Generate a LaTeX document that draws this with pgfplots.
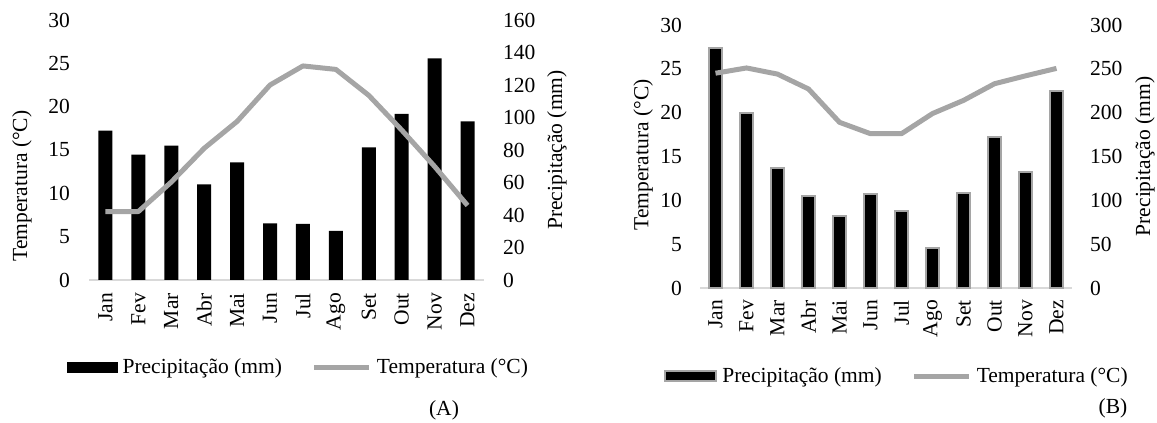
\documentclass[border=0pt]{standalone}
\usepackage{fontspec}
\setmainfont{Liberation Serif}
\usepackage{pgfplots}
\pgfplotsset{compat=1.18}

\definecolor{linegray}{HTML}{A5A5A5}
\definecolor{axisgray}{HTML}{D9D9D9}
\newcommand{\fs}{\fontsize{21.5}{25}\selectfont}

\pgfplotsset{
  clima/.style={
    scale only axis, anchor=south west, clip=false,
    xmin=-0.5, xmax=11.5, enlargelimits=false,
    tick style={draw=none}, major tick length=0pt,
    /pgf/number format/assume math mode=true,
    tick label style={font=\fs, inner sep=0pt},
    separate axis lines,
    y axis line style={draw=none},
  },
  meses/.style={
    xtick={0,...,11},
    xticklabels={Jan,Fev,Mar,Abr,Mai,Jun,Jul,Ago,Set,Out,Nov,Dez},
    xticklabel style={rotate=90, anchor=east},
  },
}

\begin{document}
\begin{tikzpicture}
\path[use as bounding box] (0,0) rectangle (1157pt,423pt);

% ---------- (A) ----------
\begin{axis}[clima, meses, at={(89pt,143pt)}, width=395pt, height=260pt,
    ymin=0, ymax=160, ytick={0,20,...,160},
    axis y line*=right, axis x line*=bottom,
    x axis line style={draw=axisgray, line width=2pt},
    xticklabel shift=13pt, yticklabel shift=19pt,
    ylabel={Precipitação (mm)},
    every axis y label/.style={at={(rel axis cs:1.1848,0.5)}, rotate=90, anchor=center, font=\fs}]
\addplot[ybar, bar width=0.425, fill=black, draw=none] coordinates {
  (0,91.9) (1,77.1) (2,82.7) (3,58.9) (4,72.4) (5,34.9)
  (6,34.5) (7,30.2) (8,81.6) (9,102.2) (10,136.4) (11,97.6)};
\end{axis}
\begin{axis}[clima, at={(89pt,143pt)}, width=395pt, height=260pt,
    ymin=0, ymax=30, ytick={0,5,...,30}, xtick=\empty,
    axis y line*=left, axis x line=none,
    yticklabel shift=19pt,
    ylabel={Temperatura (°C)},
    every axis y label/.style={at={(rel axis cs:-0.1696,0.3615)}, rotate=90, anchor=center, font=\fs},
    legend style={at={(rel axis cs:0.528,-0.335)}, anchor=center, draw=none, fill=none,
      font=\fs, nodes={inner sep=0pt},
      /tikz/every odd column/.append style={column sep=5pt},
      /tikz/every even column/.append style={column sep=30pt}},
    legend columns=2, legend cell align=left]
\addlegendimage{legend image code/.code={\fill[black] (0pt,-5pt) rectangle (50pt,5pt);}}
\addlegendentry{Precipitação (mm)}
\addplot[linegray, line width=5pt, line join=round,
  legend image code/.code={\draw[linegray, line width=5pt] (0pt,0pt) -- (55pt,0pt);}] coordinates {
  (0,7.9) (1,7.9) (2,11.3) (3,15.2) (4,18.3) (5,22.5)
  (6,24.7) (7,24.3) (8,21.3) (9,17.3) (10,13.1) (11,8.6)};
\addlegendentry{Temperatura (°C)}
\end{axis}
\node[font=\fs] at (444pt,13pt) {(A)};

% ---------- (B) ----------
\begin{axis}[clima, meses, at={(700pt,135pt)}, width=372pt, height=263pt,
    ymin=0, ymax=300, ytick={0,50,...,300},
    axis y line*=right, axis x line*=bottom,
    x axis line style={draw=axisgray, line width=2pt},
    xticklabel shift=12pt, yticklabel shift=18pt,
    ylabel={Precipitação (mm)},
    every axis y label/.style={at={(rel axis cs:1.196,0.5)}, rotate=90, anchor=center, font=\fs}]
\addplot[ybar, bar width=0.42, fill=black, draw=linegray, line width=2pt] coordinates {
  (0,274) (1,200) (2,137) (3,105) (4,82) (5,107)
  (6,88) (7,46) (8,108) (9,172.5) (10,132) (11,225)};
\end{axis}
\begin{axis}[clima, at={(700pt,135pt)}, width=372pt, height=263pt,
    ymin=0, ymax=30, ytick={0,5,...,30}, xtick=\empty,
    axis y line*=left, axis x line=none,
    yticklabel shift=18pt,
    ylabel={Temperatura (°C)},
    every axis y label/.style={at={(rel axis cs:-0.153,0.506)}, rotate=90, anchor=center, font=\fs},
    legend style={at={(rel axis cs:0.527,-0.335)}, anchor=center, draw=none, fill=none,
      font=\fs, nodes={inner sep=0pt},
      /tikz/every odd column/.append style={column sep=5pt},
      /tikz/every even column/.append style={column sep=30pt}},
    legend columns=2, legend cell align=left]
\addlegendimage{legend image code/.code={\filldraw[fill=black, draw=linegray, line width=2pt] (0pt,-5pt) rectangle (51pt,5pt);}}
\addlegendentry{Precipitação (mm)}
\addplot[linegray, line width=5pt, line join=round,
  legend image code/.code={\draw[linegray, line width=5pt] (0pt,0pt) -- (55pt,0pt);}] coordinates {
  (0,24.5) (1,25.1) (2,24.4) (3,22.7) (4,18.9) (5,17.6)
  (6,17.6) (7,19.9) (8,21.4) (9,23.3) (10,24.2) (11,25.05)};
\addlegendentry{Temperatura (°C)}
\end{axis}
\node[font=\fs] at (1113pt,15pt) {(B)};
\end{tikzpicture}
\end{document}
